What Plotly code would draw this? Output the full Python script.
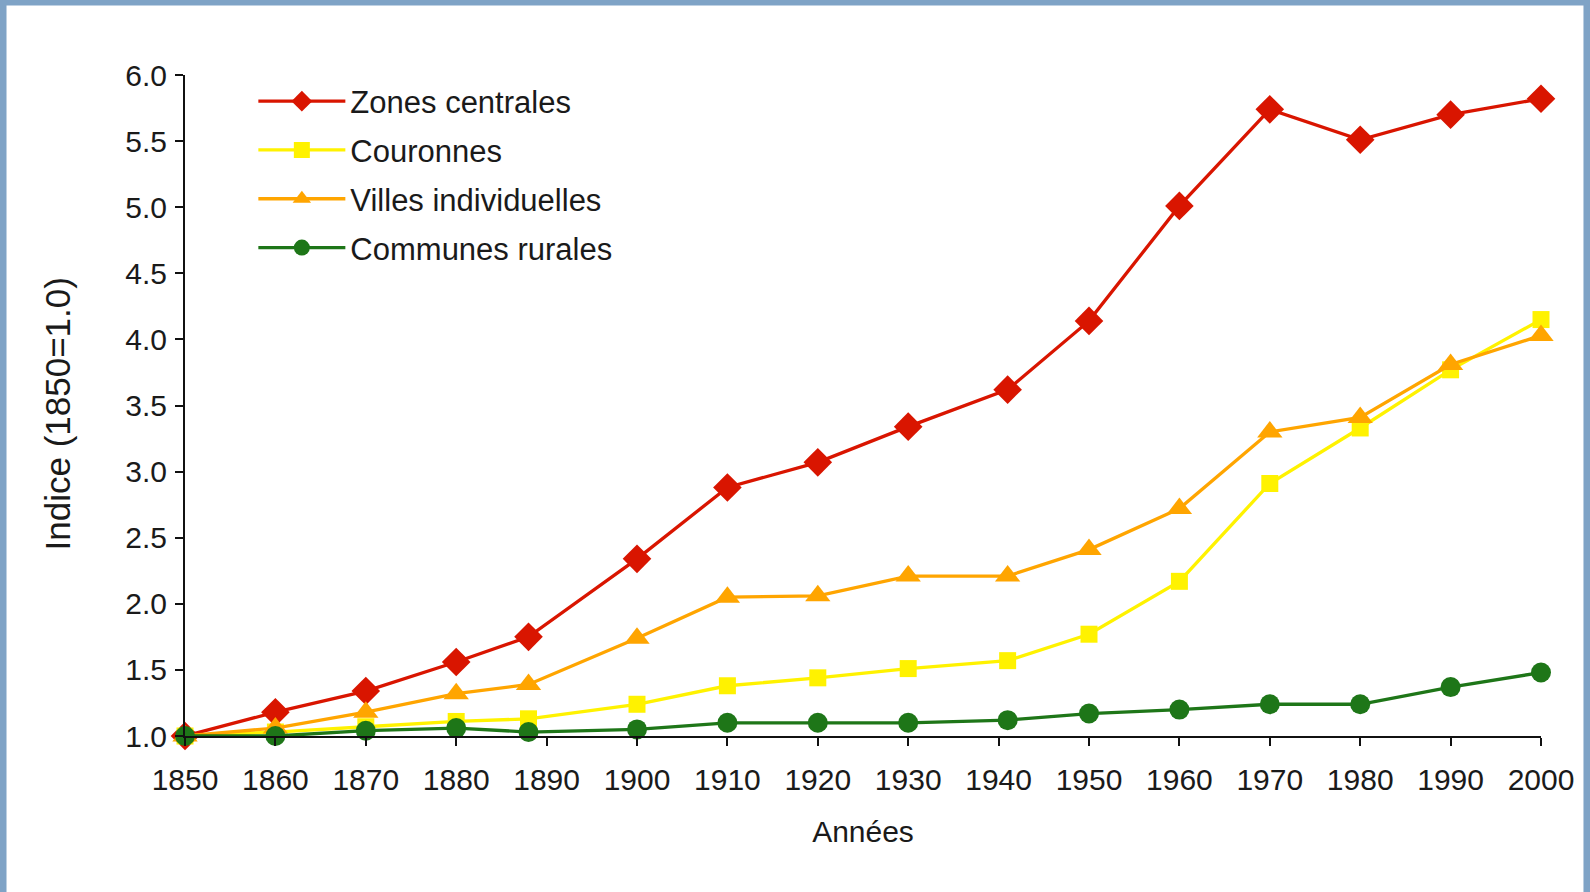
import plotly.graph_objects as go

years = [1850, 1860, 1870, 1880, 1888, 1900, 1910, 1920, 1930, 1941, 1950, 1960, 1970, 1980, 1990, 2000]
zones_centrales = [1.00, 1.18, 1.34, 1.56, 1.75, 2.34, 2.88, 3.07, 3.34, 3.62, 4.14, 5.01, 5.74, 5.51, 5.70, 5.82]
couronnes = [1.00, 1.03, 1.07, 1.11, 1.13, 1.24, 1.38, 1.44, 1.51, 1.57, 1.77, 2.17, 2.91, 3.33, 3.77, 4.15]
villes_individuelles = [1.00, 1.06, 1.18, 1.32, 1.39, 1.74, 2.05, 2.06, 2.21, 2.21, 2.41, 2.72, 3.30, 3.41, 3.81, 4.03]
communes_rurales = [1.00, 1.00, 1.04, 1.06, 1.03, 1.05, 1.10, 1.10, 1.10, 1.12, 1.17, 1.20, 1.24, 1.24, 1.37, 1.48]

x_ticks = [1850, 1860, 1870, 1880, 1890, 1900, 1910, 1920, 1930, 1940, 1950, 1960, 1970, 1980, 1990, 2000]
y_ticks = [1.0, 1.5, 2.0, 2.5, 3.0, 3.5, 4.0, 4.5, 5.0, 5.5, 6.0]

series = [
    ("Zones centrales", zones_centrales, "#D91500", "diamond", 22),
    ("Couronnes", couronnes, "#FFF200", "square", 17),
    ("Villes individuelles", villes_individuelles, "#FFA500", "triangle-up", 22),
    ("Communes rurales", communes_rurales, "#1E7618", "circle", 20),
]

W, H = 1590, 892
L, R, T, B = 184.6, 48.5, 74.5, 155.5
pw = W - L - R
ph = H - T - B

fig = go.Figure()
for i, (name, vals, col, sym, ms) in enumerate(series):
    fig.add_trace(go.Scatter(
        x=years, y=vals, name=name, mode="lines+markers",
        line=dict(color=col, width=3.3),
        marker=dict(color=col, symbol=sym, size=ms),
        cliponaxis=False, legendgroup=name,
    ))

tick_font = dict(family="Liberation Sans, Arial", size=30, color="#1a1a1a")

def px_x(p):
    return (p - L) / pw

def px_y(p):
    return 1 - (p - T) / ph

fig.update_layout(
    width=W, height=H,
    margin=dict(l=L, r=R, t=T, b=B, autoexpand=False),
    paper_bgcolor="#7FA3C6", plot_bgcolor="white",
    showlegend=True,
    legend=dict(
        x=px_x(253), y=px_y(74), xanchor="left", yanchor="top",
        font=dict(family="Liberation Sans, Arial", size=31, color="#1a1a1a"),
        bgcolor="rgba(0,0,0,0)", traceorder="grouped", tracegroupgap=5.5,
        itemwidth=87,
    ),
    shapes=[dict(
        type="rect", xref="paper", yref="paper", layer="below",
        x0=px_x(6), x1=px_x(1584), y0=px_y(5), y1=px_y(900),
        fillcolor="white", line=dict(width=0),
    )],
    annotations=[dict(
        text="Indice (1850=1.0)", textangle=-90, showarrow=False,
        xref="paper", yref="paper", x=px_x(58), y=px_y(414),
        xanchor="center", yanchor="middle",
        font=dict(family="Liberation Sans, Arial", size=35, color="#1a1a1a"),
    )],
    xaxis=dict(
        range=[1850, 2000], tickmode="array", tickvals=x_ticks,
        showgrid=False, zeroline=False, showline=True, linecolor="#111", linewidth=2,
        ticks="outside", ticklen=8, tickwidth=2, tickcolor="#111",
        tickfont=tick_font, ticklabelstandoff=8,
        title=dict(text="Années", font=tick_font, standoff=26),
    ),
    yaxis=dict(
        range=[1, 6], tickmode="array", tickvals=y_ticks,
        tickformat=".1f",
        showgrid=False, zeroline=False, showline=True, linecolor="#111", linewidth=2,
        ticks="outside", ticklen=8, tickwidth=2, tickcolor="#111",
        tickfont=tick_font, ticklabelstandoff=2,
    ),
)

fig.write_html("out.html", config={"displayModeBar": False},
               post_script="document.body.style.margin='0';")
